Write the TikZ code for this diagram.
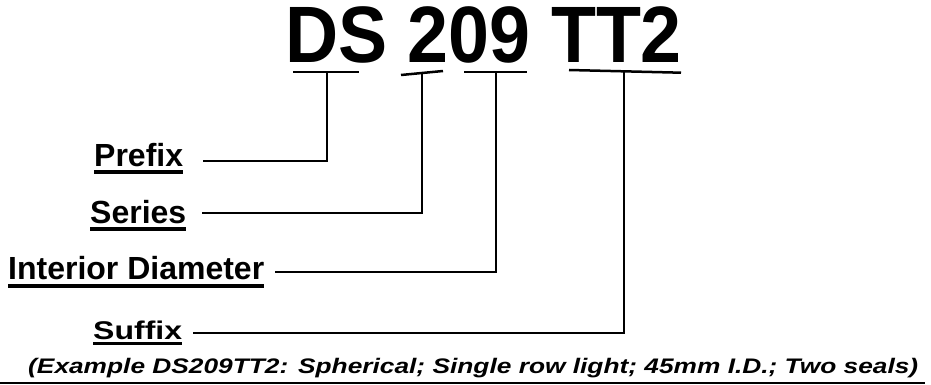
\documentclass[tikz,border=0pt]{standalone}
\usepackage{fontspec}
\setmainfont{Liberation Sans}
\begin{document}
\begin{tikzpicture}[x=1pt,y=-1pt,
  title/.style={anchor=base west,inner sep=0pt,font=\fontsize{80}{80}\selectfont\bfseries},
  lbl/.style={anchor=base west,inner sep=0pt,font=\fontsize{32}{32}\selectfont\bfseries},
  note/.style={anchor=base west,inner sep=0pt,font=\fontsize{26.3}{26.3}\selectfont\bfseries\itshape},
  ul/.style={line width=3.6pt},
  bar/.style={line width=2.5pt},
  lead/.style={line width=2.8pt,line join=miter},
  rule/.style={line width=1.5pt}]
\useasboundingbox (0,0) rectangle (931,385);

% title
\node[title] (t) at (285,63) {\scalebox{0.92}[1]{DS 209 TT2}};

% labels
\node[lbl] (pre) at (94,166) {Prefix};
\node[lbl] (ser) at (90,223) {Series};
\node[lbl] (int) at (8,279) {Interior Diameter};
\node[lbl] (suf) at (93,339) {\scalebox{1}[0.8]{Suffix}};
\node[note] (ex) at (28,373) {\scalebox{1}[0.8]{(Example DS209TT2: Spherical; Single row light; 45mm I.D.; Two seals)}};

% underlines
\draw[ul] ([yshift=-6pt]pre.base west) -- ([yshift=-6pt]pre.base east);
\draw[ul] ([yshift=-6pt]ser.base west) -- ([yshift=-6pt]ser.base east);
\draw[ul] ([yshift=-7pt]int.base west) -- ([yshift=-7pt]int.base east);
\draw[ul] ([yshift=-4.5pt]suf.base west) -- ([yshift=-4.5pt]suf.base east);

% bars under the code parts
\coordinate (a1) at (293,72);  \coordinate (a2) at (359,72);
\coordinate (b1) at (401,75);  \coordinate (b2) at (443,71);
\coordinate (c1) at (464,72);  \coordinate (c2) at (527,72);
\coordinate (d1) at (569,70);  \coordinate (d2) at (681,72.7);
\draw[bar] (a1) -- (a2);
\draw[bar] (b1) -- (b2);
\draw[bar] (c1) -- (c2);
\draw[bar] (d1) -- (d2);

% tops of the verticals
\coordinate (ta) at (327,72);
\coordinate (tb) at (422,73);
\coordinate (tc) at (496,72);
\coordinate (td) at (624,71.6);

% leader starts
\coordinate (pa) at (203,161);
\coordinate (pb) at (202,213);
\coordinate (pc) at (275,272);
\coordinate (pd) at (193,333);

\draw[lead] (pa) -| (ta);
\draw[lead] (pb) -| (tb);
\draw[lead] (pc) -| (tc);
\draw[lead] (pd) -| (td);

% bottom rule
\coordinate (r1) at (0,383);
\coordinate (r2) at (925,383);
\draw[rule] (r1) -- (r2);
\end{tikzpicture}
\end{document}
